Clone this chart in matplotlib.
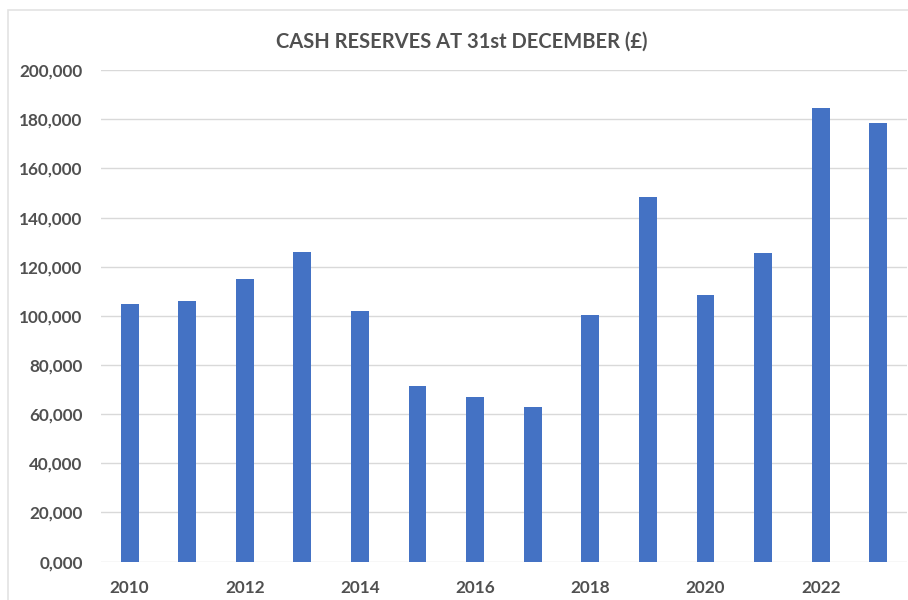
import matplotlib
matplotlib.use("Agg")
import matplotlib.pyplot as plt
import matplotlib.ticker as mticker
from matplotlib.patches import Rectangle

# -- data --
years = [2010, 2011, 2012, 2013, 2014, 2015, 2016,
         2017, 2018, 2019, 2020, 2021, 2022, 2023]
cash = [105000, 106000, 115000, 126000, 102000, 71500, 67000,
        63000, 100500, 148500, 108500, 125500, 184800, 178700]
labelled_years = [2010, 2012, 2014, 2016, 2018, 2020, 2022]
y_ticks = [0, 20000, 40000, 60000, 80000, 100000,
           120000, 140000, 160000, 180000, 200000]

BLUE = "#4472C4"
GRID = "#D9D9D9"
TEXT = "#505050"

plt.rcParams["font.family"] = ["Lato", "DejaVu Sans"]

fig = plt.figure(figsize=(9.08, 6.0), dpi=100)
fig.patch.set_facecolor("white")
ax = fig.add_axes([0.111, 0.064, 0.888, 0.819])

pos = list(range(len(years)))
ax.bar(pos, cash, width=0.31, color=BLUE, zorder=3)

ax.set_xlim(-0.5, len(years) - 0.5)
ax.set_ylim(0, 200000)
ax.set_yticks(y_ticks)
ax.yaxis.set_major_formatter(mticker.FuncFormatter(
    lambda v, _: "0,000" if v == 0 else f"{int(v):,}"))
ax.set_xticks([years.index(y) for y in labelled_years])
ax.set_xticklabels([str(y) for y in labelled_years])

ax.grid(axis="y", color=GRID, linewidth=1.0, zorder=0)
for s in ax.spines.values():
    s.set_visible(False)
ax.tick_params(axis="both", length=0, colors=TEXT, labelsize=12.3)
ax.tick_params(axis="y", pad=13)
ax.tick_params(axis="x", pad=13)
for lab in ax.get_xticklabels() + ax.get_yticklabels():
    lab.set_fontweight("bold")

fig.text(0.509, 0.930, "CASH RESERVES AT 31st DECEMBER (\u00a3)",
         ha="center", va="center", fontsize=14.5, fontweight="bold",
         color=TEXT)

# thin border of the chart area
fig.patches.append(Rectangle((0.009, -0.01), 1.0, 0.993, transform=fig.transFigure,
                             fill=False, edgecolor="#E3E3E3", linewidth=1.2))

fig.savefig("out.png", dpi=100, facecolor="white")
